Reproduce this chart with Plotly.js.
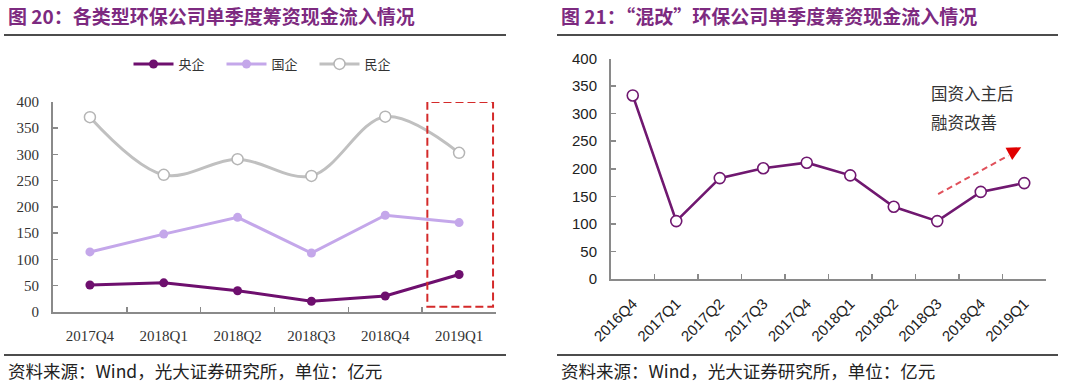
<!DOCTYPE html>
<html>
<head>
<meta charset="utf-8">
<script src="https://cdn.plot.ly/plotly-3.0.1.min.js"></script>
<style>
  html, body { margin: 0; padding: 0; background: #ffffff; }
  #chart { width: 1080px; height: 388px; }
</style>
</head>
<body>
<div id="chart"></div>
<script>
// ---------------- data ----------------
const quartersLeft = ['2017Q4', '2018Q1', '2018Q2', '2018Q3', '2018Q4', '2019Q1'];
const centralSOE = [51, 55, 40, 20, 30, 71];      // 央企
const localSOE = [114, 148, 180, 112, 184, 170];  // 国企
const privateCo = [371, 261, 291, 259, 372, 303]; // 民企

const quartersRight = ['2016Q4', '2017Q1', '2017Q2', '2017Q3', '2017Q4',
                       '2018Q1', '2018Q2', '2018Q3', '2018Q4', '2019Q1'];
const mixedReform = [333, 105, 183, 201, 211, 188, 131, 105, 158, 174]; // 混改

const seriesNames = ['央企', '国企', '民企'];
const yTickVals = [0, 50, 100, 150, 200, 250, 300, 350, 400];

const titleLeft = '图 20：各类型环保公司单季度筹资现金流入情况';
const titleRight = '图 21：“混改”环保公司单季度筹资现金流入情况';
const sourceText = '资料来源：Wind，光大证券研究所，单位：亿元';
const noteLines = ['国资入主后', '融资改善'];

// ---------------- helpers ----------------
const W = 1080, H = 388;
const px = x => x / W;
const py = y => 1 - y / H;

const CJK = '"Noto Sans CJK SC", "Noto Sans", sans-serif';
const SERIF = '"Liberation Serif", "DejaVu Serif", serif';
const SANS = '"Liberation Sans", Arial, sans-serif';
const titleColor = '#7d2a80';
const axisColor = '#8a8a8a';

// ---------------- traces ----------------
const traces = [
  {
    x: quartersLeft, y: centralSOE, name: seriesNames[0],
    type: 'scatter', mode: 'lines+markers', xaxis: 'x', yaxis: 'y',
    line: { color: '#6e0f6e', width: 3 },
    marker: { color: '#6e0f6e', size: 9 }
  },
  {
    x: quartersLeft, y: localSOE, name: seriesNames[1],
    type: 'scatter', mode: 'lines+markers', xaxis: 'x', yaxis: 'y',
    line: { color: '#c4a7ea', width: 3 },
    marker: { color: '#c4a7ea', size: 9 }
  },
  {
    x: quartersLeft, y: privateCo, name: seriesNames[2],
    type: 'scatter', mode: 'lines+markers', xaxis: 'x', yaxis: 'y',
    line: { color: '#c0c0c0', width: 3, shape: 'spline', smoothing: 1 },
    marker: { color: '#ffffff', size: 11, line: { color: '#b5b5b5', width: 1.5 } }
  },
  {
    x: quartersRight, y: mixedReform, name: '混改',
    type: 'scatter', mode: 'lines+markers', xaxis: 'x2', yaxis: 'y2',
    showlegend: false,
    line: { color: '#701870', width: 2.6 },
    marker: { color: '#ffffff', size: 11, line: { color: '#701870', width: 1.6 } }
  }
];

// ---------------- layout ----------------
const baseAxis = {
  showgrid: false, zeroline: false, showline: true,
  linecolor: axisColor, linewidth: 2,
  ticks: 'inside', ticklen: 5, tickwidth: 1.5, tickcolor: axisColor,
  fixedrange: true
};

const layout = {
  width: W, height: H,
  margin: { l: 0, r: 0, t: 0, b: 0, pad: 0 },
  paper_bgcolor: '#ffffff', plot_bgcolor: '#ffffff',
  showlegend: true,
  legend: {
    orientation: 'h', x: px(268), xanchor: 'center', y: py(64), yanchor: 'middle',
    font: { family: CJK, size: 13, color: '#333333' },
    itemwidth: 40, entrywidth: 38, entrywidthmode: 'pixels',
    bgcolor: 'rgba(0,0,0,0)', traceorder: 'normal'
  },
  xaxis: Object.assign({}, baseAxis, {
    domain: [px(53), px(496)], anchor: 'y',
    type: 'category', range: [-0.5, 5.5], tickson: 'boundaries',
    tickfont: { family: SERIF, size: 15, color: '#333333' },
    ticklabelstandoff: 9
  }),
  yaxis: Object.assign({}, baseAxis, {
    domain: [py(311.7), py(102)], anchor: 'x',
    range: [0, 400], tickvals: yTickVals,
    tickfont: { family: SERIF, size: 15, color: '#333333' },
    ticklabelstandoff: 9
  }),
  xaxis2: Object.assign({}, baseAxis, {
    domain: [px(611), px(1046)], anchor: 'y2',
    type: 'category', range: [-0.5, 9.5], tickson: 'boundaries',
    tickangle: -45,
    tickfont: { family: SANS, size: 15, color: '#222222' },
    ticklabelstandoff: 8
  }),
  yaxis2: Object.assign({}, baseAxis, {
    domain: [py(279), py(58.5)], anchor: 'x2',
    range: [0, 400], tickvals: yTickVals,
    tickfont: { family: SANS, size: 15, color: '#222222' },
    ticklabelstandoff: 9
  }),
  shapes: [
    // title underlines
    { type: 'line', xref: 'paper', yref: 'paper', x0: px(4), x1: px(506), y0: py(35), y1: py(35),
      line: { color: '#111111', width: 1.5 } },
    { type: 'line', xref: 'paper', yref: 'paper', x0: px(557), x1: px(1058), y0: py(35), y1: py(35),
      line: { color: '#111111', width: 1.5 } },
    // footer lines
    { type: 'line', xref: 'paper', yref: 'paper', x0: px(4), x1: px(506), y0: py(355), y1: py(355),
      line: { color: '#111111', width: 1.5 } },
    { type: 'line', xref: 'paper', yref: 'paper', x0: px(557), x1: px(1058), y0: py(355), y1: py(355),
      line: { color: '#111111', width: 1.5 } },
    // red dashed highlight box
    { type: 'rect', xref: 'x', yref: 'y', x0: 4.57, x1: 5.46, y0: 9.5, y1: 400,
      line: { color: '#d42a2a', width: 2, dash: '8px,4px' }, fillcolor: 'rgba(0,0,0,0)' },
    // dashed trend arrow shaft
    { type: 'line', xref: 'x2', yref: 'y2', x0: 7.02, y0: 154, x1: 8.64, y1: 224,
      line: { color: '#e0505a', width: 2, dash: '6px,4px' } }
  ],
  annotations: [
    { text: titleLeft, xref: 'paper', yref: 'paper', x: px(6), y: py(16),
      xanchor: 'left', yanchor: 'middle', showarrow: false,
      font: { family: CJK, size: 19, color: titleColor, weight: 'bold' } },
    { text: titleRight, xref: 'paper', yref: 'paper', x: px(559), y: py(16),
      xanchor: 'left', yanchor: 'middle', showarrow: false,
      font: { family: CJK, size: 19, color: titleColor, weight: 'bold' } },
    { text: sourceText, xref: 'paper', yref: 'paper', x: px(6), y: py(370),
      xanchor: 'left', yanchor: 'middle', showarrow: false,
      font: { family: CJK, size: 17.5, color: '#222222' } },
    { text: sourceText, xref: 'paper', yref: 'paper', x: px(559), y: py(370),
      xanchor: 'left', yanchor: 'middle', showarrow: false,
      font: { family: CJK, size: 17.5, color: '#222222' } },
    { text: noteLines[0], xref: 'paper', yref: 'paper', x: px(929), y: py(93),
      xanchor: 'left', yanchor: 'middle', showarrow: false,
      font: { family: CJK, size: 16.5, color: '#333333' } },
    { text: noteLines[1], xref: 'paper', yref: 'paper', x: px(929), y: py(122),
      xanchor: 'left', yanchor: 'middle', showarrow: false,
      font: { family: CJK, size: 16.5, color: '#333333' } },
    // arrow head
    { text: '', xref: 'x2', yref: 'y2', x: 8.93, y: 239, axref: 'pixel', ayref: 'pixel',
      ax: -13, ay: 7, showarrow: true, arrowhead: 2, arrowsize: 1.4, arrowwidth: 2,
      arrowcolor: '#e00000', standoff: 0 }
  ]
};

Plotly.newPlot('chart', traces, layout, { displayModeBar: false, staticPlot: true });
</script>
</body>
</html>
